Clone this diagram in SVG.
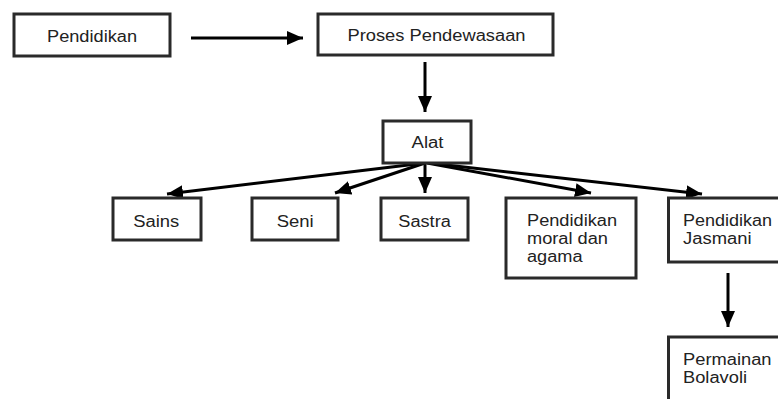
<svg xmlns="http://www.w3.org/2000/svg" width="778" height="399" viewBox="0 0 778 399">
<style>
.box{fill:#fff;stroke:#2a2a2a;stroke-width:3}
.t{font-family:"Liberation Sans",Arial,sans-serif;font-size:16px;fill:#222}
.line{stroke:#000;stroke-width:3;fill:none;marker-end:url(#ah)}
</style>
<defs>
<marker id="ah" markerUnits="userSpaceOnUse" markerWidth="17" markerHeight="14" refX="16" refY="7" orient="auto" viewBox="0 0 17 14">
<path d="M0,0 L16,7 L0,14 Z" fill="#000"/>
</marker>
</defs>
<rect width="778" height="399" fill="#fff"/>
<g id="connectors">
<line class="line" x1="191" y1="38" x2="303" y2="38"/>
<line class="line" x1="425" y1="62" x2="425" y2="112"/>
<line class="line" x1="425" y1="163" x2="167" y2="194"/>
<line class="line" x1="425" y1="163" x2="335" y2="193"/>
<line class="line" x1="425" y1="163" x2="425" y2="193"/>
<line class="line" x1="427" y1="163" x2="591" y2="193"/>
<line class="line" x1="429" y1="163" x2="702" y2="194"/>
<line class="line" x1="728" y1="273" x2="728" y2="327"/>
</g>
<g id="pendidikan">
<rect class="box" x="14" y="14" width="156" height="42"/>
<text class="t" x="47" y="42" textLength="90" lengthAdjust="spacingAndGlyphs">Pendidikan</text>
</g>
<g id="proses">
<rect class="box" x="318" y="14" width="235" height="41"/>
<text class="t" x="347.5" y="41" textLength="178" lengthAdjust="spacingAndGlyphs">Proses Pendewasaan</text>
</g>
<g id="alat">
<rect class="box" x="383" y="121" width="88" height="42"/>
<text class="t" x="411.5" y="147.5" textLength="32" lengthAdjust="spacingAndGlyphs">Alat</text>
</g>
<g id="sains">
<rect class="box" x="113" y="198" width="88" height="42"/>
<text class="t" x="133.3" y="226.5" textLength="46" lengthAdjust="spacingAndGlyphs">Sains</text>
</g>
<g id="seni">
<rect class="box" x="252" y="198" width="86" height="42"/>
<text class="t" x="276.7" y="226.5" textLength="37" lengthAdjust="spacingAndGlyphs">Seni</text>
</g>
<g id="sastra">
<rect class="box" x="381" y="198" width="87" height="42"/>
<text class="t" x="398.3" y="226.5" textLength="52.5" lengthAdjust="spacingAndGlyphs">Sastra</text>
</g>
<g id="moral">
<rect class="box" x="506" y="198" width="130" height="80"/>
<text class="t" x="527" y="226" textLength="90" lengthAdjust="spacingAndGlyphs">Pendidikan</text>
<text class="t" x="527" y="244" textLength="81" lengthAdjust="spacingAndGlyphs">moral dan</text>
<text class="t" x="527" y="262" textLength="55.5" lengthAdjust="spacingAndGlyphs">agama</text>
</g>
<g id="jasmani">
<rect class="box" x="668.5" y="198" width="120" height="64"/>
<text class="t" x="683" y="226" textLength="89" lengthAdjust="spacingAndGlyphs">Pendidikan</text>
<text class="t" x="683" y="244" textLength="68.5" lengthAdjust="spacingAndGlyphs">Jasmani</text>
</g>
<g id="permainan">
<rect class="box" x="668.5" y="337" width="120" height="80"/>
<text class="t" x="683" y="365" textLength="88.5" lengthAdjust="spacingAndGlyphs">Permainan</text>
<text class="t" x="683" y="383" textLength="64" lengthAdjust="spacingAndGlyphs">Bolavoli</text>
</g>
</svg>
